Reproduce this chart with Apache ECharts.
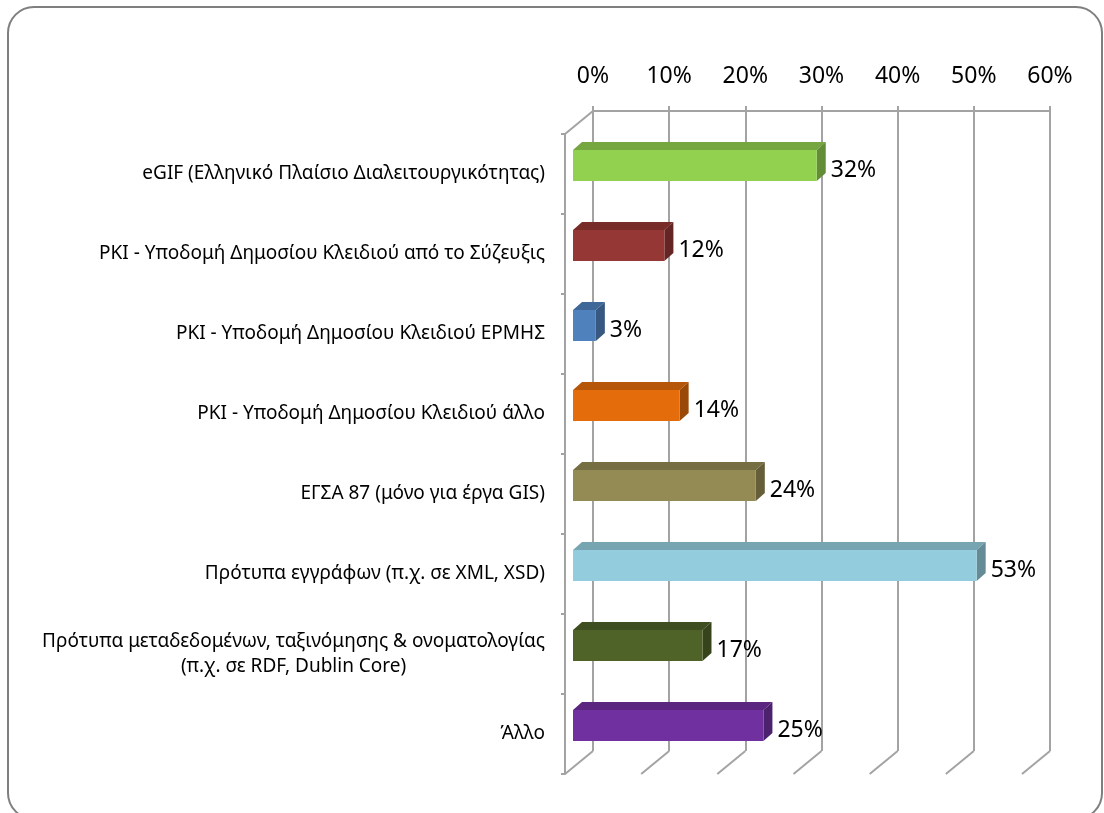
<!DOCTYPE html>
<html>
<head>
<meta charset="utf-8">
<title>Πρότυπα</title>
<script src="https://cdn.jsdelivr.net/npm/echarts@6/dist/echarts.min.js"></script>
<style>
  html, body { margin: 0; padding: 0; background: #fff; }
  #chart { width: 1104px; height: 813px; }
</style>
</head>
<body>
<div id="chart"></div>
<script>
// categories (top -> bottom)
var categories = [
  'eGIF (Ελληνικό Πλαίσιο Διαλειτουργικότητας)',
  'PKI - Υποδομή Δημοσίου Κλειδιού από το Σύζευξις',
  'PKI - Υποδομή Δημοσίου Κλειδιού ΕΡΜΗΣ',
  'PKI - Υποδομή Δημοσίου Κλειδιού άλλο',
  'ΕΓΣΑ 87 (μόνο για έργα GIS)',
  'Πρότυπα εγγράφων (π.χ. σε XML, XSD)',
  'Πρότυπα μεταδεδομένων, ταξινόμησης & ονοματολογίας\n(π.χ. σε RDF, Dublin Core)',
  'Άλλο'
];
var values = [0.32, 0.12, 0.03, 0.14, 0.24, 0.53, 0.17, 0.25];
var barColors = ['#92D050', '#953735', '#4F81BD', '#E46C0A', '#948A54', '#93CDDD', '#4F6228', '#7030A0'];
var xTicks = [0, 0.1, 0.2, 0.3, 0.4, 0.5, 0.6];

var FONT = 'Noto Sans';
var GRID_COLOR = '#a3a3a3';
// oblique depth of the 3d box (front relative to back wall)
var DEPTH_X = -28, DEPTH_Y = 23;

function shade(hex, k) {
  var n = parseInt(hex.slice(1), 16);
  var r = Math.round(((n >> 16) & 255) * k);
  var g = Math.round(((n >> 8) & 255) * k);
  var b = Math.round((n & 255) * k);
  return 'rgb(' + r + ',' + g + ',' + b + ')';
}
function pct(v) { return Math.round(v * 100) + '%'; }

// floor diagonals + top-left edge of the box
function renderFrame(params, api) {
  var cs = params.coordSys;
  var p = api.coord([api.value(0), 0]);
  var bottom = cs.y + cs.height;
  var style = { stroke: GRID_COLOR, lineWidth: 2 };
  var children = [{
    type: 'line',
    shape: { x1: p[0], y1: bottom, x2: p[0] + DEPTH_X, y2: bottom + DEPTH_Y },
    style: style
  }];
  if (params.dataIndex === 0) {
    children.push({
      type: 'line',
      shape: { x1: cs.x, y1: cs.y, x2: cs.x + DEPTH_X, y2: cs.y + DEPTH_Y },
      style: style
    });
  }
  return { type: 'group', children: children };
}

// 3d bar: front face, top face, side face, value label
function renderBar(params, api) {
  var v = api.value(0), idx = api.value(1);
  var s = api.coord([0, idx]);
  var e = api.coord([v, idx]);
  var color = barColors[idx];
  var x0 = s[0] - 20, x1 = e[0] - 20;
  var yTop = s[1] - 1, yBot = yTop + 31;
  var bx = 9, by = -8;
  return {
    type: 'group',
    children: [
      {
        type: 'polygon',
        shape: { points: [[x0, yTop], [x1, yTop], [x1 + bx, yTop + by], [x0 + bx, yTop + by]] },
        style: { fill: shade(color, 0.8) }
      },
      {
        type: 'polygon',
        shape: { points: [[x1, yTop], [x1 + bx, yTop + by], [x1 + bx, yBot + by], [x1, yBot]] },
        style: { fill: shade(color, 0.68) }
      },
      {
        type: 'rect',
        shape: { x: x0, y: yTop, width: x1 - x0, height: yBot - yTop },
        style: { fill: color }
      },
      {
        type: 'text',
        style: {
          x: x1 + bx + 5, y: s[1] + 19,
          text: pct(v),
          fill: '#000', font: '23px "' + FONT + '"',
          verticalAlign: 'middle', align: 'left'
        }
      }
    ]
  };
}

var chart = echarts.init(document.getElementById('chart'));
chart.setOption({
  backgroundColor: '#fff',
  animation: false,
  graphic: [{
    type: 'rect',
    shape: { x: 8, y: 7, width: 1094, height: 812, r: 26 },
    style: { fill: 'none', stroke: '#7f7f7f', lineWidth: 2 },
    z: 0
  }],
  grid: [
    // back wall
    { left: 593, right: 54, top: 111, bottom: 62 },
    // front plane (category labels and left wall)
    { left: 565, right: 82, top: 134, bottom: 39 }
  ],
  xAxis: [{
    gridIndex: 0,
    type: 'value',
    position: 'top',
    min: 0, max: 0.6, interval: 0.1,
    axisLine: { show: true, lineStyle: { color: GRID_COLOR, width: 2 } },
    axisTick: { show: true, length: 5, lineStyle: { color: GRID_COLOR, width: 2 } },
    splitLine: { show: true, lineStyle: { color: GRID_COLOR, width: 2 } },
    axisLabel: {
      margin: 23, color: '#000', fontSize: 23, fontFamily: FONT,
      formatter: function (v) { return pct(v); }
    }
  }, {
    gridIndex: 1,
    type: 'value', show: false, min: 0, max: 0.6
  }],
  yAxis: [{
    gridIndex: 0,
    type: 'category', data: categories, inverse: true, show: false
  }, {
    gridIndex: 1,
    type: 'category', data: categories, inverse: true,
    axisLine: { show: true, lineStyle: { color: GRID_COLOR, width: 2 } },
    axisTick: { show: true, length: 4, lineStyle: { color: GRID_COLOR, width: 2 } },
    splitLine: { show: false },
    axisLabel: {
      margin: 20, color: '#000', fontSize: 19, fontFamily: FONT,
      formatter: function (v) {
        return v.split('\n').map(function (l) { return '{c|' + l + '}'; }).join('\n');
      },
      rich: { c: { align: 'center', fontSize: 19, fontFamily: FONT, color: '#000', lineHeight: 25 } }
    }
  }],
  series: [{
    type: 'custom',
    xAxisIndex: 0, yAxisIndex: 0,
    renderItem: renderFrame,
    data: xTicks.map(function (t) { return [t, 0]; }),
    z: 1, silent: true
  }, {
    type: 'custom',
    xAxisIndex: 0, yAxisIndex: 0,
    renderItem: renderBar,
    encode: { x: 0, y: 1 },
    data: values.map(function (v, i) { return [v, i]; }),
    z: 5
  }]
});
</script>
</body>
</html>
